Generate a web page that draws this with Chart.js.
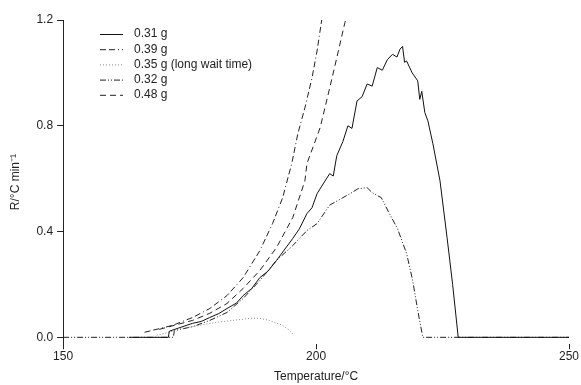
<!DOCTYPE html>
<html>
<head>
<meta charset="utf-8">
<script src="https://cdn.jsdelivr.net/npm/chart.js@4"></script>
<style>
  html, body { margin: 0; padding: 0; background: #fff; }
  #wrap { width: 581px; height: 385px; }
</style>
</head>
<body>
<div id="wrap"><canvas id="c"></canvas></div>
<script>
// values (Temperature °C, R °C/min)
const t031 = [163, 170.8, 171, 172.8, 175.6, 177.3, 179, 180.8, 182.4, 184.3, 185.6, 187.3, 188.9, 190.5, 192.2, 193.7, 195.4, 196.7, 198.2, 199.2, 200.2, 201.4, 202.7, 203.4, 204.1, 205.3, 206.3, 207.1, 208.1, 209.1, 210.1, 211.1, 212.1, 213.1, 214.1, 215.1, 216, 216.6, 217.1, 217.5, 217.9, 219, 220.1, 220.5, 220.9, 221.5, 222.1, 223.1, 224.5, 225.9, 227, 228.1, 250];
const r031 = [0, 0, 0.023, 0.035, 0.053, 0.06, 0.075, 0.09, 0.109, 0.13, 0.158, 0.185, 0.226, 0.25, 0.291, 0.33, 0.374, 0.41, 0.468, 0.49, 0.543, 0.58, 0.619, 0.61, 0.687, 0.74, 0.80, 0.79, 0.894, 0.91, 0.958, 0.95, 1.02, 1.01, 1.05, 1.07, 1.06, 1.09, 1.10, 1.04, 1.045, 1.0, 0.97, 0.90, 0.93, 0.85, 0.819, 0.732, 0.592, 0.377, 0.2, 0, 0];

const t039 = [166.1, 171.6, 175.6, 179, 182.4, 185.6, 188.9, 191.4, 193.4, 195.2, 196.4, 197.8, 199.2, 200.2, 201.2];
const r039 = [0.019, 0.045, 0.075, 0.109, 0.158, 0.226, 0.328, 0.43, 0.528, 0.657, 0.77, 0.868, 0.981, 1.083, 1.21];

const t035 = [168.5, 170.1, 173.6, 177, 180.4, 183.6, 187, 188.9, 190.8, 193.4, 194.8, 195.6];
const r035 = [0.008, 0.015, 0.034, 0.045, 0.057, 0.064, 0.072, 0.072, 0.064, 0.045, 0.026, 0.008];

const t032 = [150, 171.8, 172, 175.6, 179, 182.4, 185.6, 188.9, 192.2, 195.4, 198.2, 200.2, 202.7, 205.3, 206.7, 208.3, 210.1, 211.1, 212.9, 214.5, 216.1, 217.9, 219.1, 220.1, 221.1, 250];
const r032 = [0, 0, 0.026, 0.04, 0.064, 0.094, 0.147, 0.215, 0.291, 0.347, 0.404, 0.43, 0.5, 0.528, 0.543, 0.562, 0.566, 0.547, 0.528, 0.468, 0.411, 0.317, 0.215, 0.102, 0, 0];

const t048 = [169, 175.6, 179, 182.4, 185.6, 188.9, 192.2, 195.4, 197.8, 198.2, 200.8, 202.7, 204.1, 205.7, 206.1];
const r048 = [0.03, 0.064, 0.091, 0.128, 0.185, 0.253, 0.34, 0.453, 0.592, 0.657, 0.792, 0.943, 1.057, 1.19, 1.215];

const labels = ['0.31 g', '0.39 g', '0.35 g (long wait time)', '0.32 g', '0.48 g'];
const xTicks = [150, 200, 250];
const yTicks = [0, 0.4, 0.8, 1.2];

const pts = (t, r) => t.map((x, i) => ({ x, y: r[i] }));
const FONT = "'Liberation Sans', Arial, sans-serif";
const INK = '#222';

const series = [
  { data: pts(t031, r031), dash: [], color: '#111' },
  { data: pts(t039, r039), dash: [6, 3, 6, 3, 1, 3], color: INK },
  { data: pts(t035, r035), dash: [1, 2], color: '#888' },
  { data: pts(t032, r032), dash: [6, 2, 1, 2, 1, 2], color: INK },
  { data: pts(t048, r048), dash: [6, 4], color: INK },
];

// legend drawn inside the plot, top-left
const insideLegend = {
  id: 'insideLegend',
  afterDraw(chart) {
    const ctx = chart.ctx;
    const x0 = 100, x1 = 123, tx = 134, y0 = 34, dy = 15.2;
    ctx.save();
    ctx.font = '12px ' + FONT;
    ctx.textBaseline = 'middle';
    chart.data.datasets.forEach((ds, i) => {
      const y = y0 + i * dy;
      ctx.beginPath();
      ctx.setLineDash(ds.borderDash);
      ctx.strokeStyle = ds.borderColor;
      ctx.lineWidth = 1;
      ctx.moveTo(x0, y + 0.5);
      ctx.lineTo(x1, y + 0.5);
      ctx.stroke();
      ctx.setLineDash([]);
      ctx.fillStyle = INK;
      ctx.fillText(ds.label, tx, y);
    });
    ctx.restore();
  }
};

new Chart(document.getElementById('c'), {
  type: 'line',
  data: {
    datasets: series.map((s, i) => ({
      label: labels[i],
      data: s.data,
      borderColor: s.color,
      borderDash: s.dash,
      borderWidth: 1,
      pointRadius: 0,
      tension: 0,
      fill: false
    }))
  },
  options: {
    responsive: true, maintainAspectRatio: false, animation: false,
    layout: { padding: { top: 20, right: 12, left: 8, bottom: 1 } },
    plugins: { legend: { display: false }, tooltip: { enabled: false } },
    scales: {
      x: {
        type: 'linear', min: 150, max: 250,
        afterBuildTicks: ax => { ax.ticks = xTicks.map(v => ({ value: v })); },
        border: { display: false },
        grid: { drawOnChartArea: false, drawTicks: true, tickLength: 5, color: INK },
        ticks: { color: INK, font: { size: 12, family: FONT }, padding: 0, maxRotation: 0 },
        title: { display: true, text: 'Temperature/°C', color: INK, font: { size: 12, family: FONT }, padding: { top: 6, bottom: 0 } }
      },
      y: {
        type: 'linear', min: -0.026, max: 1.2,
        afterBuildTicks: ax => { ax.ticks = yTicks.map(v => ({ value: v })); },
        border: { display: true, color: INK },
        grid: { drawOnChartArea: false, drawTicks: true, tickLength: 6, color: INK },
        ticks: { color: INK, font: { size: 12, family: FONT }, padding: 4, callback: v => v.toFixed(1) },
        title: { display: true, text: 'R/°C min⁻¹', color: INK, font: { size: 12, family: FONT }, padding: { top: 0, bottom: 10 } }
      }
    }
  },
  plugins: [insideLegend]
});
</script>
</body>
</html>
